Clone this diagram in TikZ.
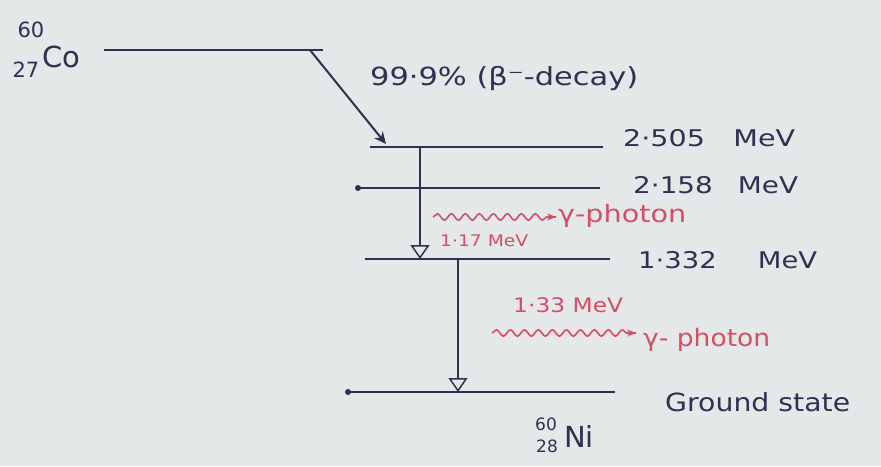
\documentclass[tikz,border=0pt]{standalone}
\usepackage{fontspec}
\setmainfont{DejaVu Sans}
\usetikzlibrary{arrows.meta,decorations.pathmorphing}
\definecolor{paper}{RGB}{229,232,232}
\definecolor{ink}{RGB}{48,48,82}
\definecolor{redink}{RGB}{212,78,102}
\newcommand\fitw[2]{\resizebox{#1}{\height}{#2}}
\begin{document}
\begin{tikzpicture}[x=1pt,y=-1pt,
  level/.style={draw=ink,line width=2.2pt},
  trans/.style={draw=ink,line width=1.7pt,-{Triangle[open,length=14pt,width=19pt,line width=1.5pt]}},
  beta/.style={draw=ink,line width=2pt,-{Stealth[length=12pt,width=11pt]}},
  wavy/.style={draw=redink,line width=1.6pt,decorate,decoration={snake,amplitude=3.2pt,segment length=14pt,post length=8pt}},
  wavytip/.style={draw=redink,line width=1.6pt,-{Stealth[length=9pt,width=7pt]}},
  txt/.style={text=ink,inner sep=0pt,font=\fontsize{23}{25}\selectfont},
  rtxt/.style={text=redink,inner sep=0pt,font=\fontsize{24}{26}\selectfont},
  dotst/.style={circle,fill=ink,inner sep=0pt,minimum size=6pt}]
\fill[paper] (0,0) rectangle (881,466);
\useasboundingbox (0,0) rectangle (881,466);

% Co level
\coordinate (co1) at (104,50);
\coordinate (co2) at (323,50);
\draw[level] (co1) -- (co2);
\node[txt,font=\fontsize{21}{23}\selectfont] (coa) at (31,30) {60};
\node[txt,font=\fontsize{21}{23}\selectfont] (coz) at (26,70) {27};
\node[txt,font=\fontsize{29}{31}\selectfont] (co) at (61,57) {Co};

% levels
\coordinate (a1) at (370,147); \coordinate (a2) at (603,147);
\coordinate (b1) at (358,188); \coordinate (b2) at (600,188);
\coordinate (c1) at (365,259); \coordinate (c2) at (610,259);
\coordinate (d1) at (348,392); \coordinate (d2) at (615,392);
\draw[level] (a1) -- (a2);
\draw[level] (b1) -- (b2);
\draw[level] (c1) -- (c2);
\draw[level] (d1) -- (d2);
\node[dotst] (bd) at (b1) {};
\node[dotst] (dd) at (d1) {};

% beta decay arrow
\coordinate (bs) at (310,50);
\coordinate (be) at (386,144);
\draw[beta] (bs) -- (be);
\node[txt,anchor=base west,font=\fontsize{25}{27}\selectfont] (bl) at (370,85) {\fitw{268pt}{99·9\% (β⁻-decay)}};

% energy labels
\node[txt,anchor=base west] (ea) at (623,146) {\fitw{172pt}{2·505\hspace{1em}MeV}};
\node[txt,anchor=base west] (eb) at (633,193) {\fitw{165pt}{2·158\hspace{0.9em}MeV}};
\node[txt,anchor=base west] (ec) at (638,268) {\fitw{179pt}{1·332\hspace{1.5em}MeV}};
\node[txt,anchor=base west,font=\fontsize{25}{27}\selectfont] (ed) at (665,411) {\fitw{185pt}{Ground state}};
\node[txt,font=\fontsize{17}{19}\selectfont] (nia) at (546,424) {60};
\node[txt,font=\fontsize{17}{19}\selectfont] (niz) at (547,446) {28};
\node[txt,font=\fontsize{29}{31}\selectfont] (ni) at (579,436) {Ni};

% gamma transitions
\coordinate (t1s) at (420,147); \coordinate (t1e) at (420,259);
\coordinate (t2s) at (458,259); \coordinate (t2e) at (458,392);
\draw[trans] (t1s) -- (t1e);
\draw[trans] (t2s) -- (t2e);

% photons
\coordinate (p1s) at (433,217); \coordinate (p1e) at (556,217);
\draw[wavy] (p1s) -- (p1e);
\coordinate (p1m) at (547,217);
\draw[wavytip] (p1m) -- (p1e);
\node[rtxt,anchor=base west] (g1) at (558,222) {\fitw{128pt}{γ-photon}};
\node[rtxt,anchor=base west,font=\fontsize{16}{18}\selectfont] (k1) at (440,246) {\fitw{88pt}{1·17 MeV}};

\coordinate (p2s) at (492,333); \coordinate (p2e) at (636,333);
\draw[wavy] (p2s) -- (p2e);
\coordinate (p2m) at (627,333);
\draw[wavytip] (p2m) -- (p2e);
\node[rtxt,anchor=base west] (g2) at (643,346) {\fitw{127pt}{γ- photon}};
\node[rtxt,anchor=base west,font=\fontsize{20}{22}\selectfont] (k2) at (513,312) {\fitw{110pt}{1·33 MeV}};
\end{tikzpicture}
\end{document}
